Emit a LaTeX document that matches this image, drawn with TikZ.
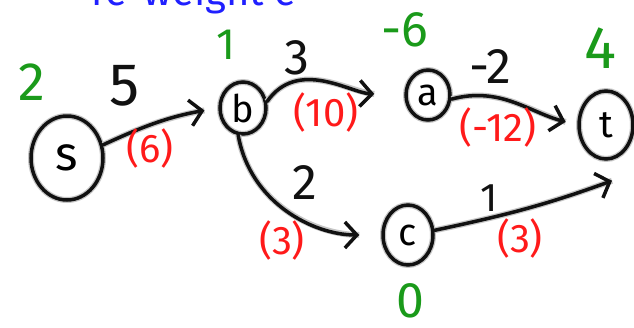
\documentclass[tikz,border=0pt]{standalone}
\usepackage{fontspec}
\setmainfont{Fira Sans}
\usetikzlibrary{shapes.geometric,arrows.meta}
\definecolor{ink}{HTML}{111111}
\definecolor{halo}{HTML}{A0A0A0}
\definecolor{gr}{HTML}{1A9A1A}
\definecolor{rd}{HTML}{FF1A1A}
\definecolor{bl}{HTML}{2020FF}
\tikzset{
  vtx/.style={ellipse, draw=ink, line width=3.5pt, inner sep=0pt, font=\fontsize{38}{38}\selectfont,
    preaction={draw=halo!60, line width=6pt}},
  edge/.style={draw=ink, line width=3.5pt, line cap=round, line join=round,
    -{Straight Barb[length=12pt,width=26pt,line width=3.5pt]},
    preaction={draw=halo!60, line width=6pt, -}},
  wt/.style={text=ink, font=\fontsize{50}{50}\selectfont},
  rwt/.style={text=rd, font=\fontsize{40}{40}\selectfont},
  pot/.style={text=gr, inner sep=0pt, font=\fontsize{54}{54}\selectfont},
}
\begin{document}
\begin{tikzpicture}[x=1pt,y=-1pt]
\useasboundingbox (0,0) rectangle (634,327);
\fill[white] (0,0) rectangle (634,327);
\begin{scope}
\clip (0,0) rectangle (634,327);
\node[text=bl, font=\fontsize{40}{40}\selectfont, anchor=base west] (title) at (88,5) {re-weight e};
\end{scope}
% vertices
\node[vtx, minimum width=72pt, minimum height=84pt, font=\fontsize{48}{48}\selectfont] (s) at (67,158) {s};
\node[vtx, minimum width=46pt, minimum height=52pt] (b) at (243,108) {b};
\node[vtx, minimum width=44pt, minimum height=50pt] (a) at (428,95) {a};
\node[vtx, minimum width=54pt, minimum height=68pt] (t) at (606,125) {t};
\node[vtx, minimum width=50pt, minimum height=60pt] (c) at (408,235) {c};
% potentials
\node[pot] (ps) at (32,82) {2};
\node[pot, font=\fontsize{44}{44}\selectfont] (pb) at (226,45) {1};
\node[pot, font=\fontsize{50}{50}\selectfont] (pa) at (405,30) {-6};
\node[pot, font=\fontsize{60}{60}\selectfont] (pt) at (600,48) {4};
\node[pot, font=\fontsize{50}{50}\selectfont] (pc) at (410,301) {0};
% edges
\draw[edge, shorten >=14pt] (s.20) to[out=25,in=190] (b.west);
\draw[edge, shorten >=30pt] (b.15) to[out=55,in=178] (a.west);
\draw[edge, shorten >=12pt] (a.-10) to[out=15,in=165] (t.west);
\draw[edge, shorten >=22pt] (b.-100) to[out=-80,in=180] (c.west);
\draw[edge] (c.10) to[out=12,in=200] ([xshift=6pt,yshift=-20pt]t.south);
% weights
\node[wt, font=\fontsize{60}{60}\selectfont] (w1) at (125,86) {5};
\node[rwt] (r1) at (150,148) {(6)};
\node[wt] (w2) at (297,58) {3};
\node[rwt] (r2) at (326,112) {(10)};
\node[wt] (w3) at (490,67) {-2};
\node[rwt] (r3) at (498,127) {(-12)};
\node[wt] (w4) at (305,183) {2};
\node[rwt] (r4) at (282,240) {(3)};
\node[wt, font=\fontsize{40}{40}\selectfont] (w5) at (489,198) {1};
\node[rwt] (r5) at (520,238) {(3)};
\end{tikzpicture}
\end{document}
